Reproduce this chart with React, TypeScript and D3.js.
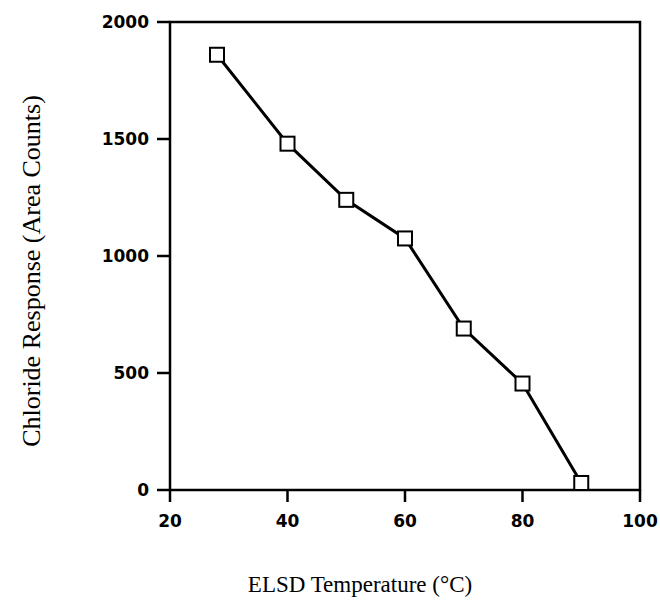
import React from "react";
import * as d3 from "d3";

const temps = [28, 40, 50, 60, 70, 80, 90];
const responses = [1860, 1480, 1240, 1075, 690, 455, 30];
const xTicks = [20, 40, 60, 80, 100];
const yTicks = [0, 500, 1000, 1500, 2000];

export default function App() {
  const W = 660, H = 600;
  const left = 170, right = 640, top = 22, bottom = 490;
  const x = d3.scaleLinear().domain([20, 100]).range([left, right]);
  const y = d3.scaleLinear().domain([0, 2000]).range([bottom, top]);
  const line = d3.line<number>().x((d, i) => x(temps[i])).y((d) => y(d));
  const tickFont = "'DejaVu Sans', sans-serif";
  return (
    <svg width={W} height={H} style={{ position: "absolute", left: 0, top: 0, background: "#fff" }}>
      <rect x={left} y={top} width={right - left} height={bottom - top} fill="none" stroke="#000" strokeWidth={2.5} />
      {yTicks.map((t) => (
        <g key={"y" + t}>
          <line x1={left - 13} x2={left} y1={y(t)} y2={y(t)} stroke="#000" strokeWidth={2.5} />
          <text x={left - 21} y={y(t)} dy="0.36em" textAnchor="end" fontFamily={tickFont} fontSize={17} fontWeight={600}>{t}</text>
        </g>
      ))}
      {xTicks.map((t) => (
        <g key={"x" + t}>
          <line x1={x(t)} x2={x(t)} y1={bottom} y2={bottom + 12} stroke="#000" strokeWidth={2.5} />
          <text x={x(t)} y={bottom + 37} textAnchor="middle" fontFamily={tickFont} fontSize={17} fontWeight={600}>{t}</text>
        </g>
      ))}
      <path d={line(responses) || ""} fill="none" stroke="#000" strokeWidth={3} />
      {responses.map((r, i) => (
        <rect key={i} x={x(temps[i]) - 7} y={y(r) - 7} width={14} height={14} fill="#fff" stroke="#000" strokeWidth={2} />
      ))}
      <text x={360} y={592} textAnchor="middle" fontFamily="'Liberation Serif', serif" fontSize={23}>ELSD Temperature (°C)</text>
      <text transform={`translate(40, 271) rotate(-90)`} textAnchor="middle" fontFamily="'Liberation Serif', serif" fontSize={26}>Chloride Response (Area Counts)</text>
    </svg>
  );
}
